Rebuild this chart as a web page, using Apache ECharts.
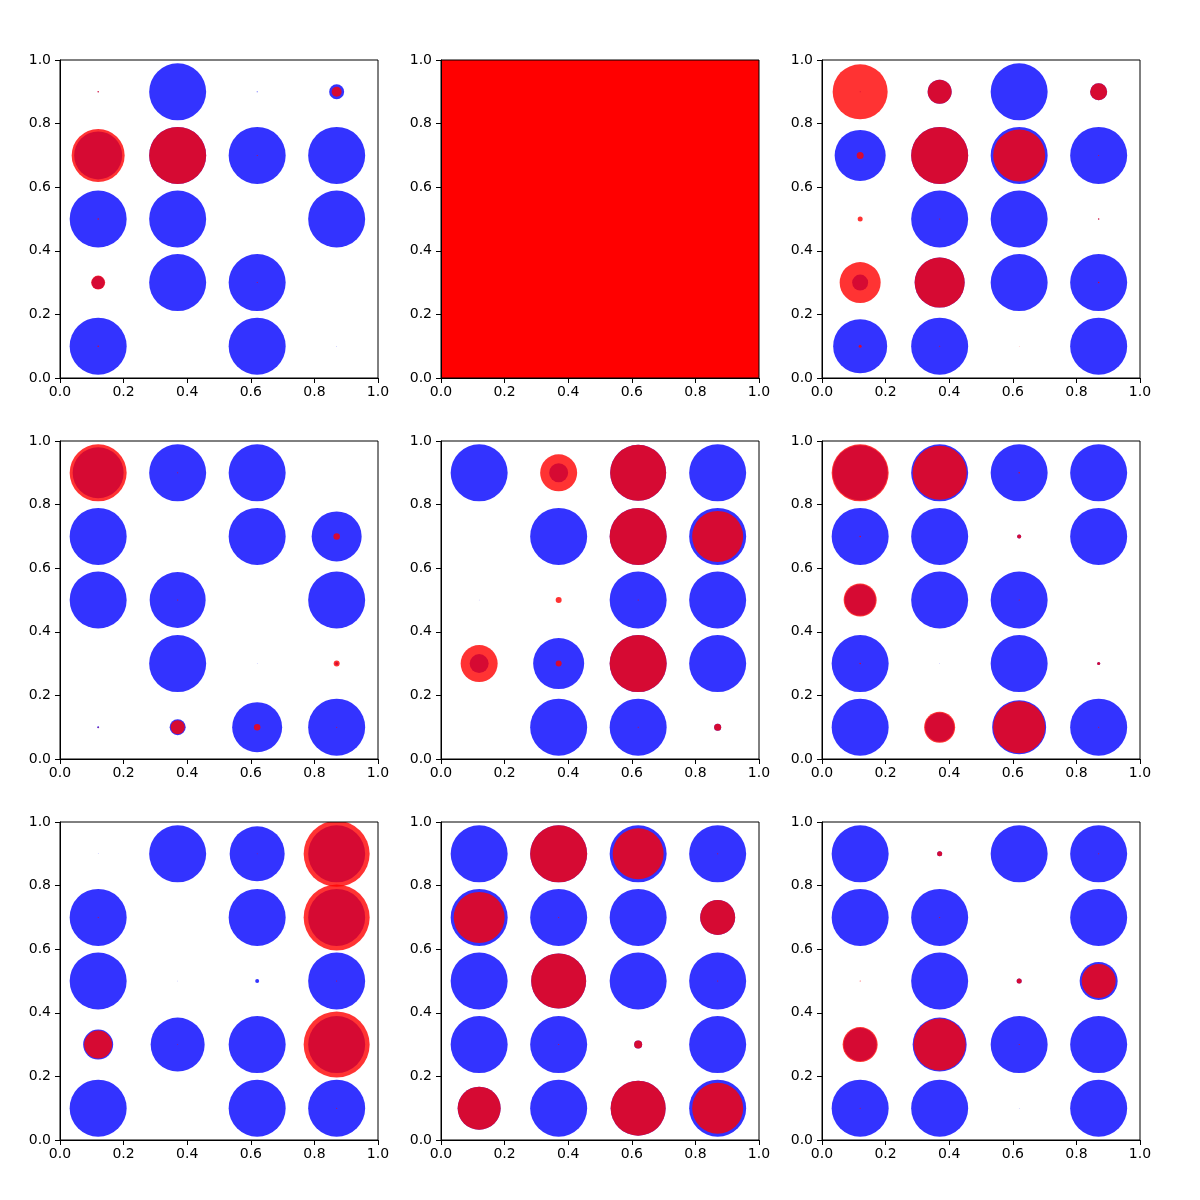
<!DOCTYPE html>
<html>
<head>
<meta charset="utf-8">
<script src="https://cdn.jsdelivr.net/npm/echarts@6/dist/echarts.min.js"></script>
<style>html,body{margin:0;padding:0;background:#fff}#c{width:1200px;height:1200px}</style>
</head>
<body>
<div id="c"></div>
<script>
// Grid positions of the markers
const xPositions = [0.12, 0.37, 0.62, 0.87];
const yRows = [0.9, 0.7, 0.5, 0.3, 0.1]; // top row first
const tickValues = [0, 0.2, 0.4, 0.6, 0.8, 1.0];

// Marker sizes (diameter, px) per panel, rows top→bottom, columns left→right
const blue1 = [[1,57,1,15],[48,57,57,57],[57,57,0,57],[13,57,57,0],[57,0,57,0.6]];
const red1  = [[1.5,0,0,10],[53,57,1,0],[1.5,0,0,0],[14,0,1,0],[1.5,0,0,0]];
const blue2 = [[57,57,57,57],[57,57,57,57],[57,57,57,57],[57,57,57,57],[57,57,57,57]];
const red2  = [[900,900,900,900],[900,900,900,900],[900,900,900,900],[900,900,900,900],[900,900,900,900]];
const blue3 = [[1,24,57,17],[51,57,57,57],[0,57,57,1],[16,50,57,57],[54,57,0,57]];
const red3  = [[55,24,0,17],[7,57,52,1],[5,1,0,1.5],[41,50,0,1.5],[3,1,0.5,0]];
const blue4 = [[51,57,57,0],[57,0,57,50],[57,56,0,57],[0,57,0.5,3],[2,16,50,57]];
const red4  = [[57,1,0,0],[0,0,0,6.5],[0,1,0,0],[0,0,0,6],[1,14,6.5,1]];
const blue5 = [[57,19,56,57],[0,57,57,57],[0.5,0,57,57],[19,51,57,57],[0,57,57,7]];
const red5  = [[0,37,56,0],[0,0,57,51],[0,6,1,0],[37,6,57,0],[0,0,1,7]];
const blue6 = [[55,57,57,57],[57,57,4,57],[31,57,57,0],[57,0.5,57,3],[57,29,54,57]];
const red6  = [[57,54,1.5,0],[1.5,0,4,0],[33,0,1,0],[1.5,0,0,3],[0,31,52,1]];
const blue7 = [[0.5,57,55,57],[57,0,57,57],[57,0.5,4,57],[30,54,57,57],[57,0,57,57]];
const red7  = [[0,0,0.8,66],[1,0,0,66],[0,0,0,1],[28,0.8,0,66],[0,0,0,1]];
const blue8 = [[57,57,57,57],[57,57,57,35],[57,55,57,57],[57,57,8,57],[43,57,55,57]];
const red8  = [[0,57,51,1],[51,1,0,35],[0,55,0,1],[0,1,8,0],[43,0,55,51]];
const blue9 = [[57,5,57,57],[57,57,0,57],[0,57,5,38],[33,54,57,57],[57,57,0.5,57]];
const red9  = [[0,5,0,1],[0,1,0,0],[1,0,5,34],[35,52,1,0],[1,0,0,0]];

const panels = [
  [blue1, red1], [blue2, red2], [blue3, red3],
  [blue4, red4], [blue5, red5], [blue6, red6],
  [blue7, red7], [blue8, red8], [blue9, red9]
];

function toPoints(mat) {
  const pts = [];
  mat.forEach((row, r) => row.forEach((s, c) => {
    if (s > 0) pts.push([xPositions[c], yRows[r], s]);
  }));
  return pts;
}

function circleRenderer(fill) {
  return function (params, api) {
    const p = api.coord([api.value(0), api.value(1)]);
    const d = api.value(2);
    return {
      type: 'circle',
      shape: {cx: p[0], cy: p[1], r: d / 2},
      style: {fill: fill, stroke: null}
    };
  };
}

const lefts = [60, 441, 822];
const tops = [60, 441, 822];
const grids = [], xAxes = [], yAxes = [], series = [];
const fmt = v => v.toFixed(1);
const font = 'DejaVu Sans';

panels.forEach((p, i) => {
  const col = i % 3, row = Math.floor(i / 3);
  grids.push({left: lefts[col], top: tops[row], width: 318, height: 318,
    show: true, borderColor: '#000', borderWidth: 1, backgroundColor: 'transparent', z: 5});
  const axisCommon = {
    gridIndex: i, type: 'value', min: 0, max: 1, interval: 0.2, z: 5,
    axisLine: {show: true, onZero: false, lineStyle: {color: '#000', width: 1}},
    axisTick: {show: true, length: 5, lineStyle: {color: '#000', width: 1}},
    splitLine: {show: false},
  };
  xAxes.push(Object.assign({}, axisCommon, {
    axisLabel: {formatter: fmt, color: '#000', fontSize: 14, fontFamily: font, margin: 7}
  }));
  yAxes.push(Object.assign({}, axisCommon, {
    axisLabel: {formatter: fmt, color: '#000', fontSize: 14, fontFamily: font, margin: 9}
  }));
  series.push({
    type: 'custom', xAxisIndex: i, yAxisIndex: i, clip: true, silent: true, z: 2,
    data: toPoints(p[0]), renderItem: circleRenderer('rgba(0,0,255,0.8)')
  });
  series.push({
    type: 'custom', xAxisIndex: i, yAxisIndex: i, clip: true, silent: true, z: 3,
    data: toPoints(p[1]), renderItem: circleRenderer('rgba(255,0,0,0.8)')
  });
});

const chart = echarts.init(document.getElementById('c'), null, {renderer: 'canvas'});
chart.setOption({
  animation: false,
  backgroundColor: '#fff',
  grid: grids, xAxis: xAxes, yAxis: yAxes, series: series
});
</script>
</body>
</html>
